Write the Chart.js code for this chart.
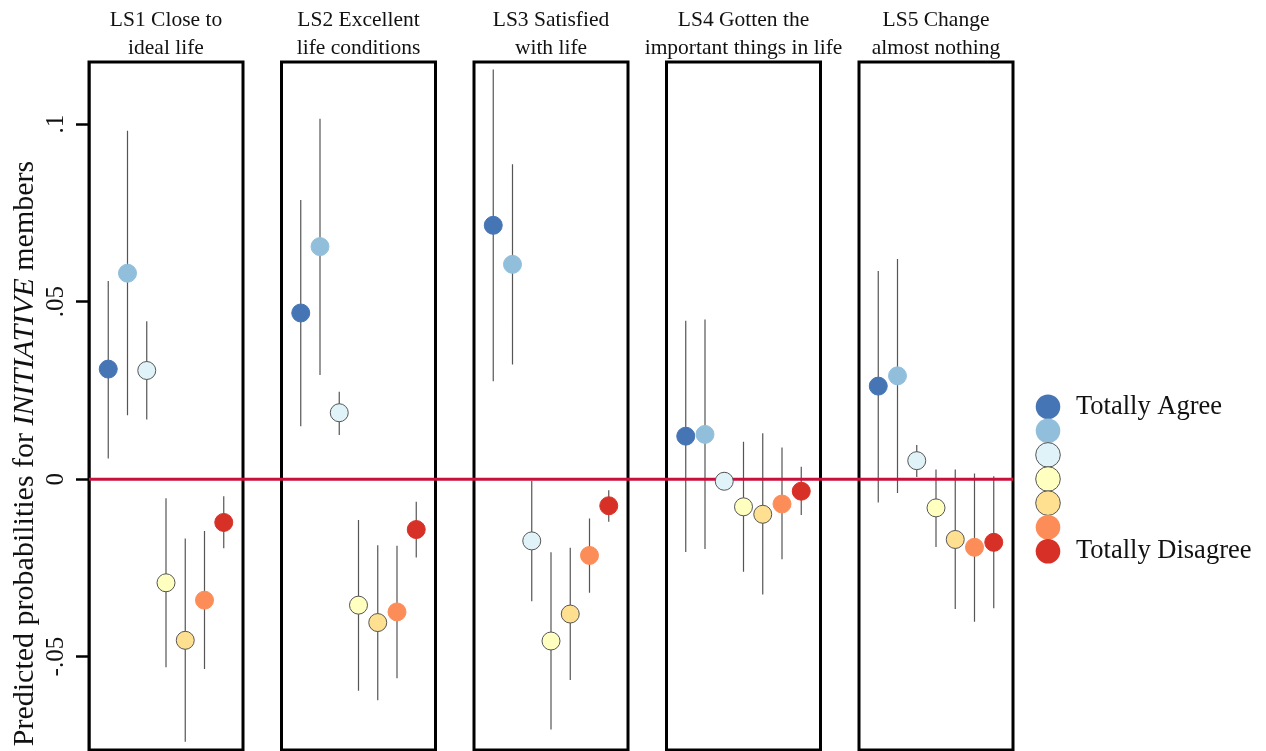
<!DOCTYPE html>
<html>
<head>
<meta charset="utf-8">
<script src="https://cdn.jsdelivr.net/npm/chart.js@4.4.1/dist/chart.umd.min.js"></script>
<style>
  html, body { margin: 0; padding: 0; background: #fff; }
  #wrap { width: 1266px; height: 751px; }
</style>
</head>
<body>
<div id="wrap"><canvas id="chart" width="1266" height="751"></canvas></div>
<script>
// panel titles (two lines each)
const panelTitles = [
  ['LS1 Close to', 'ideal life'],
  ['LS2 Excellent', 'life conditions'],
  ['LS3 Satisfied', 'with life'],
  ['LS4 Gotten the', 'important things in life'],
  ['LS5 Change', 'almost nothing']
];
const levelLabels = ['Totally Agree', '', '', '', '', '', 'Totally Disagree'];
const levelColors = ['#4575b4', '#91bfdb', '#e0f3f8', '#ffffbf', '#fee090', '#fc8d59', '#d73027'];

// predicted probabilities, lower and upper bounds, per panel (7 levels each)
const ls1   = [0.031, 0.058, 0.0306, -0.0292, -0.0454, -0.0341, -0.0122];
const ls1Lo = [0.0058, 0.018, 0.0168, -0.053, -0.074, -0.0535, -0.0195];
const ls1Hi = [0.0558, 0.0981, 0.0445, -0.0054, -0.0167, -0.0146, -0.0048];

const ls2   = [0.0468, 0.0655, 0.0187, -0.0355, -0.0404, -0.0374, -0.0142];
const ls2Lo = [0.0149, 0.0293, 0.0124, -0.0596, -0.0623, -0.0561, -0.0221];
const ls2Hi = [0.0786, 0.1015, 0.0246, -0.0115, -0.0186, -0.0188, -0.0064];

const ls3   = [0.0715, 0.0605, -0.0174, -0.0456, -0.038, -0.0215, -0.0075];
const ls3Lo = [0.0276, 0.0323, -0.0344, -0.0705, -0.0566, -0.032, -0.012];
const ls3Hi = [0.1154, 0.0887, -0.0005, -0.0206, -0.0193, -0.0111, -0.0031];

const ls4   = [0.0121, 0.0126, -0.0006, -0.0078, -0.0099, -0.007, -0.0034];
const ls4Lo = [-0.0205, -0.0197, -0.003, -0.0261, -0.0325, -0.0226, -0.0101];
const ls4Hi = [0.0446, 0.045, 0.002, 0.0105, 0.0129, 0.0089, 0.0035];

const ls5   = [0.0262, 0.0291, 0.0052, -0.0081, -0.017, -0.0192, -0.0178];
const ls5Lo = [-0.0066, -0.0039, 0.0006, -0.0191, -0.0366, -0.0402, -0.0364];
const ls5Hi = [0.0586, 0.062, 0.0096, 0.0027, 0.0027, 0.0016, 0.0008];

const yTickValues = [0.1, 0.05, 0, -0.05];
const yTickLabels = ['.1', '.05', '0', '-.05'];

const est = [ls1, ls2, ls3, ls4, ls5];
const lo = [ls1Lo, ls2Lo, ls3Lo, ls4Lo, ls5Lo];
const hi = [ls1Hi, ls2Hi, ls3Hi, ls4Hi, ls5Hi];

const SERIF = "'Liberation Serif', 'Times New Roman', serif";
const PANEL_W = 8, PANEL_STEP = 10;
function xOf(p, j) { return p * PANEL_STEP + j + 1; }

var datasets = [];
// one dataset per response level
levelColors.forEach(function(col, j) {
  var pale = (j >= 2 && j <= 4);
  datasets.push({
    label: levelLabels[j] || ('level ' + (j + 1)),
    data: est.map(function(s, p) { return { x: xOf(p, j), y: s[j] }; }),
    pointRadius: 9,
    pointHoverRadius: 9,
    pointBackgroundColor: col,
    pointBorderColor: pale ? '#555' : col,
    pointBorderWidth: 1,
    showLine: false,
    order: 0
  });
});

// zero reference line
datasets.push({
  label: 'zero',
  data: [{ x: 0, y: 0 }, { x: PANEL_STEP * 4 + PANEL_W, y: 0 }],
  showLine: true,
  borderColor: '#c8103c',
  borderWidth: 3,
  pointRadius: 0,
  order: 1
});

// confidence interval whiskers
var whisk = [];
for (var p = 0; p < est.length; p++) {
  for (var j = 0; j < 7; j++) {
    whisk.push({ x: xOf(p, j), y: lo[p][j] });
    whisk.push({ x: xOf(p, j), y: hi[p][j] });
    whisk.push({ x: xOf(p, j), y: null });
  }
}
datasets.push({
  label: 'ci',
  data: whisk,
  showLine: true,
  spanGaps: false,
  borderColor: '#555',
  borderWidth: 1.2,
  pointRadius: 0,
  order: 2
});

const decor = {
  id: 'decor',
  beforeDatasetsDraw: function(chart) {
    var ctx = chart.ctx, xs = chart.scales.x, a = chart.chartArea;
    ctx.save();
    ctx.strokeStyle = '#000';
    ctx.lineWidth = 3;
    for (var i = 0; i < panelTitles.length; i++) {
      var x0 = xs.getPixelForValue(i * PANEL_STEP);
      var x1 = xs.getPixelForValue(i * PANEL_STEP + PANEL_W);
      ctx.strokeRect(x0, a.top, x1 - x0, a.bottom - a.top);
    }
    ctx.restore();
  },
  afterDraw: function(chart) {
    var ctx = chart.ctx, xs = chart.scales.x, ys = chart.scales.y, a = chart.chartArea;
    ctx.save();
    ctx.fillStyle = '#111';
    // panel titles
    ctx.font = '21.5px ' + SERIF;
    ctx.textAlign = 'center';
    ctx.textBaseline = 'alphabetic';
    panelTitles.forEach(function(t, i) {
      var cx = xs.getPixelForValue(i * PANEL_STEP + PANEL_W / 2);
      ctx.fillText(t[0], cx, a.top - 36);
      ctx.fillText(t[1], cx, a.top - 8.5);
    });
    // rotated y tick labels
    ctx.font = '25px ' + SERIF;
    yTickValues.forEach(function(v, k) {
      var y = ys.getPixelForValue(v);
      ctx.save();
      ctx.translate(a.left - 26, y);
      ctx.rotate(-Math.PI / 2);
      ctx.fillText(yTickLabels[k], 0, 0);
      ctx.restore();
    });
    // y axis title with italic word
    var parts = [
      ['Predicted probabilities for ', ''],
      ['INITIATIVE', 'italic '],
      [' members', '']
    ];
    var fs = 30;
    var total = 0;
    parts.forEach(function(pt) { ctx.font = pt[1] + fs + 'px ' + SERIF; total += ctx.measureText(pt[0]).width; });
    ctx.save();
    ctx.translate(33, 453.5);
    ctx.rotate(-Math.PI / 2);
    ctx.textAlign = 'left';
    var px = -total / 2;
    parts.forEach(function(pt) {
      ctx.font = pt[1] + fs + 'px ' + SERIF;
      ctx.fillText(pt[0], px, 0);
      px += ctx.measureText(pt[0]).width;
    });
    ctx.restore();
    // legend
    var lx = a.right + 35, ly = 406.7, step = 24.1;
    levelColors.forEach(function(col, j) {
      var pale = (j >= 2 && j <= 4);
      ctx.beginPath();
      ctx.arc(lx, ly + j * step, 12.3, 0, Math.PI * 2);
      ctx.fillStyle = col;
      ctx.fill();
      if (pale) { ctx.strokeStyle = '#555'; ctx.lineWidth = 1; ctx.stroke(); }
    });
    ctx.fillStyle = '#111';
    ctx.font = '26.5px ' + SERIF;
    ctx.textAlign = 'left';
    levelLabels.forEach(function(lb, j) {
      if (lb) ctx.fillText(lb, lx + 28, ly + j * step + 7);
    });
    ctx.restore();
  }
};

new Chart(document.getElementById('chart'), {
  type: 'scatter',
  data: { datasets: datasets },
  options: {
    responsive: false,
    animation: false,
    events: [],
    layout: { autoPadding: false, padding: { top: 62, right: 253, bottom: 1, left: 0 } },
    plugins: { legend: { display: false }, tooltip: { enabled: false } },
    scales: {
      x: { type: 'linear', min: 0, max: PANEL_STEP * 4 + PANEL_W, display: false },
      y: {
        type: 'linear',
        min: -0.0763,
        max: 0.1175,
        afterBuildTicks: function(s) { s.ticks = yTickValues.map(function(v) { return { value: v }; }); },
        afterFit: function(s) { s.width = 89; },
        ticks: { display: false },
        grid: { drawOnChartArea: false, drawTicks: true, tickLength: 13, tickWidth: 2.5, color: '#000' },
        border: { display: true, color: '#000', width: 2.5 }
      }
    }
  },
  plugins: [decor]
});
</script>
</body>
</html>
